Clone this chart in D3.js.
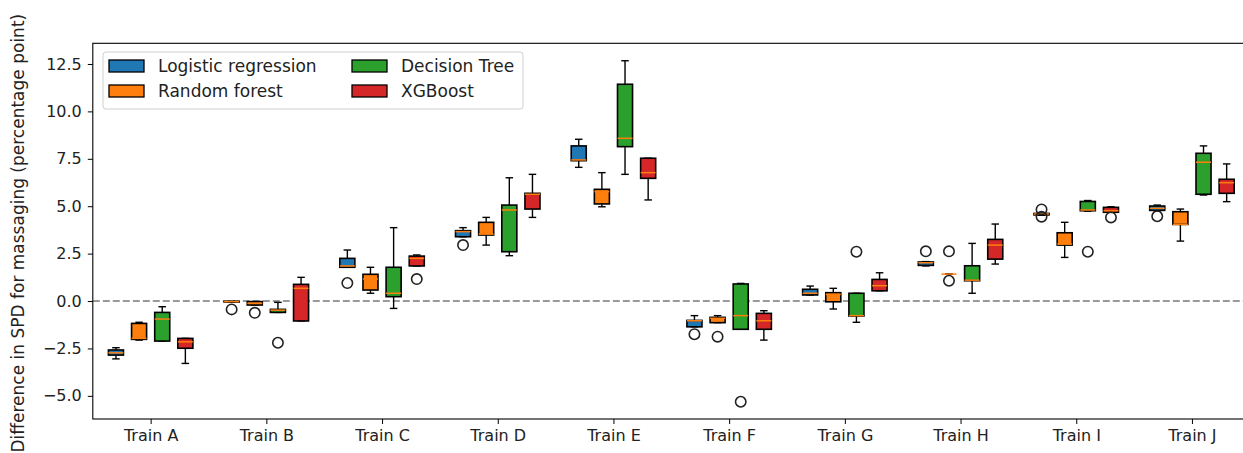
<!DOCTYPE html>
<html>
<head>
<meta charset="utf-8">
<script src="https://cdn.jsdelivr.net/npm/d3@7"></script>
<style>
  body { margin: 0; background: #fff; }
  text { font-family: "DejaVu Sans", sans-serif; }
</style>
</head>
<body>
<div id="chart"></div>
<script>
const categories = ["Train A", "Train B", "Train C", "Train D", "Train E",
                    "Train F", "Train G", "Train H", "Train I", "Train J"];
const models = ["Logistic regression", "Random forest", "Decision Tree", "XGBoost"];

// each row: [whisker low, q1, median, q3, whisker high]
const lrStats = [
  [-3.05, -2.85, -2.73, -2.58, -2.46],
  [-0.06, -0.05, -0.03, -0.02, -0.01],
  [1.78, 1.78, 1.85, 2.25, 2.69],
  [3.39, 3.39, 3.66, 3.71, 3.87],
  [7.05, 7.40, 7.44, 8.18, 8.53],
  [-1.36, -1.36, -1.04, -1.02, -0.77],
  [0.32, 0.32, 0.41, 0.62, 0.79],
  [1.85, 1.88, 2.02, 2.06, 2.08],
  [4.52, 4.54, 4.59, 4.62, 4.64],
  [4.75, 4.78, 4.89, 5.01, 5.06]
];
const lrOutliers = [[], [-0.44], [0.95], [2.95], [], [-1.75], [], [2.62], [4.83, 4.45], [4.47]];

const rfStats = [
  [-2.06, -2.02, -1.97, -1.18, -1.12],
  [-0.21, -0.21, -0.12, -0.03, -0.03],
  [0.41, 0.58, 1.16, 1.41, 1.78],
  [2.95, 3.48, 3.53, 4.15, 4.41],
  [4.97, 5.12, 5.77, 5.89, 6.77],
  [-1.14, -1.14, -0.91, -0.86, -0.77],
  [-0.42, -0.04, 0.35, 0.44, 0.67],
  [1.42, 1.42, 1.42, 1.42, 1.42],
  [2.30, 2.95, 3.00, 3.60, 4.15],
  [3.16, 4.04, 4.04, 4.71, 4.85]
];
const rfOutliers = [[], [-0.62], [], [], [], [-1.88], [], [2.62, 1.07], [], []];

const dtStats = [
  [-2.11, -2.11, -0.95, -0.60, -0.30],
  [-0.60, -0.60, -0.48, -0.44, -0.07],
  [-0.39, 0.23, 0.41, 1.78, 3.87],
  [2.39, 2.60, 4.80, 5.06, 6.50],
  [6.68, 8.14, 8.58, 11.43, 12.67],
  [-1.49, -1.49, -0.77, 0.90, 0.93],
  [-1.12, -0.79, -0.77, 0.41, 0.41],
  [0.41, 1.07, 1.10, 1.86, 3.04],
  [4.74, 4.76, 4.80, 5.25, 5.30],
  [5.59, 5.63, 7.32, 7.79, 8.18]
];
const dtOutliers = [[], [-2.2], [], [], [], [-5.31], [2.6], [], [2.6], []];

const xgbStats = [
  [-3.29, -2.49, -2.15, -1.97, -1.97],
  [-1.05, -1.05, 0.67, 0.88, 1.25],
  [1.85, 1.85, 2.25, 2.37, 2.43],
  [4.41, 4.85, 5.63, 5.68, 6.68],
  [5.33, 6.47, 6.77, 7.53, 7.53],
  [-2.06, -1.49, -1.04, -0.65, -0.51],
  [0.54, 0.54, 0.81, 1.14, 1.49],
  [1.95, 2.21, 2.95, 3.25, 4.06],
  [4.68, 4.68, 4.76, 4.94, 4.97],
  [5.24, 5.68, 6.24, 6.42, 7.23]
];
const xgbOutliers = [[], [], [1.16], [], [], [], [], [], [4.41], []];

const yTicks = [-5, -2.5, 0, 2.5, 5, 7.5, 10, 12.5];

const colors = ["#1f77b4", "#ff7f0e", "#2ca02c", "#d62728"];
const allStats = [lrStats, rfStats, dtStats, xgbStats];
const allOutliers = [lrOutliers, rfOutliers, dtOutliers, xgbOutliers];

const width = 1243;
const height = 453;
const plotLeft = 92.8, plotTop = 43.3, plotBottom = 419;

const x = d3.scaleLinear().domain([0.5, 10.5]).range([plotLeft, plotLeft + 10 * 115.7]);
const y = d3.scaleLinear().domain([-6.22, 13.59]).range([plotBottom, plotTop]);

const svg = d3.select("#chart")
  .append("svg")
  .attr("width", width)
  .attr("height", height);

// zero reference line
svg.append("line")
  .attr("x1", x(0.5)).attr("x2", x(10.5))
  .attr("y1", y(0)).attr("y2", y(0))
  .attr("stroke", "#9a9a9a")
  .attr("stroke-width", 2)
  .attr("stroke-dasharray", "7,3");

const boxWidth = 0.13;

allStats.forEach((stats, m) => {
  const offset = (m - 1.5) * 0.2;
  const g = svg.append("g");

  stats.forEach((s, i) => {
    const cx = x(i + 1 + offset);
    const half = (x(boxWidth) - x(0)) / 2;
    const [lo, q1, med, q3, hi] = s;

    // whiskers
    g.append("line")
      .attr("x1", cx).attr("x2", cx)
      .attr("y1", y(q1)).attr("y2", y(lo))
      .attr("stroke", "#000").attr("stroke-width", 1.4);
    g.append("line")
      .attr("x1", cx).attr("x2", cx)
      .attr("y1", y(q3)).attr("y2", y(hi))
      .attr("stroke", "#000").attr("stroke-width", 1.4);

    // caps
    [lo, hi].forEach((v) => {
      g.append("line")
        .attr("x1", cx - half / 2).attr("x2", cx + half / 2)
        .attr("y1", y(v)).attr("y2", y(v))
        .attr("stroke", "#000").attr("stroke-width", 1.4);
    });

    // box
    g.append("rect")
      .attr("x", cx - half)
      .attr("y", y(q3))
      .attr("width", half * 2)
      .attr("height", Math.max(y(q1) - y(q3), 0))
      .attr("fill", colors[m])
      .attr("stroke", "#000")
      .attr("stroke-width", 1.6);

    // median
    g.append("line")
      .attr("x1", cx - half).attr("x2", cx + half)
      .attr("y1", y(med)).attr("y2", y(med))
      .attr("stroke", "#ff7f0e").attr("stroke-width", 1.5);

    // fliers
    allOutliers[m][i].forEach((v) => {
      g.append("circle")
        .attr("cx", cx).attr("cy", y(v))
        .attr("r", 5.2)
        .attr("fill", "none")
        .attr("stroke", "#222")
        .attr("stroke-width", 1.6);
    });
  });
});

// frame (right spine falls outside the picture)
svg.append("rect")
  .attr("x", plotLeft).attr("y", plotTop)
  .attr("width", x(10.5) - plotLeft)
  .attr("height", plotBottom - plotTop)
  .attr("fill", "none")
  .attr("stroke", "#000")
  .attr("stroke-width", 1.1);

const xAxis = svg.append("g")
  .attr("transform", `translate(0,${plotBottom})`)
  .call(d3.axisBottom(x)
    .tickValues(d3.range(1, 11))
    .tickFormat((d) => categories[d - 1])
    .tickSize(5)
    .tickSizeOuter(0));
xAxis.select(".domain").remove();
xAxis.selectAll("text").style("font-size", "16px").attr("fill", "#222").attr("dy", "0.85em");

const yAxis = svg.append("g")
  .attr("transform", `translate(${plotLeft},0)`)
  .call(d3.axisLeft(y)
    .tickValues(yTicks)
    .tickFormat(d3.format(".1f"))
    .tickSize(5)
    .tickSizeOuter(0));
yAxis.select(".domain").remove();
yAxis.selectAll("text").style("font-size", "16px").attr("fill", "#222").attr("x", -11);

svg.append("text")
  .attr("transform", `translate(18,${(plotTop + plotBottom) / 2 + 2}) rotate(-90)`)
  .attr("text-anchor", "middle")
  .attr("dominant-baseline", "central")
  .attr("fill", "#222")
  .style("font-size", "17px")
  .text("Difference in SPD for massaging (percentage point)");

// legend
const legend = svg.append("g");
legend.append("rect")
  .attr("x", 103).attr("y", 52)
  .attr("width", 420).attr("height", 57)
  .attr("rx", 3)
  .attr("fill", "#fff").attr("fill-opacity", 0.8)
  .attr("stroke", "#d0d0d0");

models.forEach((name, i) => {
  const col = Math.floor(i / 2);
  const row = i % 2;
  const lx = 109 + col * 243;
  const ly = 66 + row * 25;
  legend.append("rect")
    .attr("x", lx).attr("y", ly - 6)
    .attr("width", 35).attr("height", 12)
    .attr("fill", colors[i])
    .attr("stroke", "#000")
    .attr("stroke-width", 1.3);
  legend.append("text")
    .attr("x", lx + 49).attr("y", ly)
    .attr("dominant-baseline", "central")
    .attr("fill", "#222")
    .style("font-size", "17px")
    .text(name);
});
</script>
</body>
</html>
